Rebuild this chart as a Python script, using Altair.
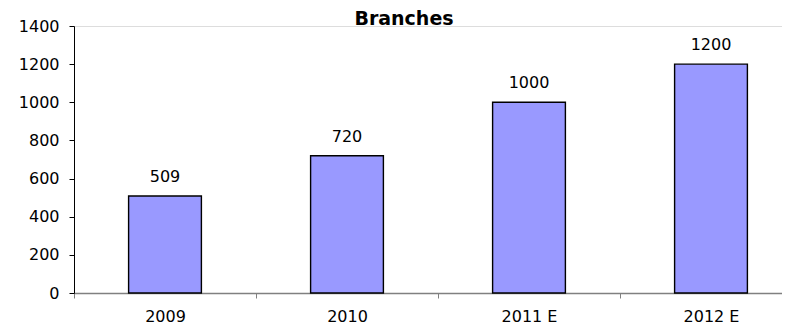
import altair as alt
import pandas as pd

years = ["2009", "2010", "2011 E", "2012 E"]
branches = [509, 720, 1000, 1200]
y_ticks = [0, 200, 400, 600, 800, 1000, 1200, 1400]

df = pd.DataFrame({"year": years, "branches": branches})

FONT = "DejaVu Sans"

x = alt.X(
    "year:N",
    sort=years,
    title=None,
    scale=alt.Scale(range=[0, 728], paddingInner=0, paddingOuter=0),
    axis=alt.Axis(
        labelAngle=0,
        labelFont=FONT,
        labelFontSize=16,
        labelColor="black",
        labelBaseline="alphabetic",
        labelPadding=23,
        domainColor="#808080",
        domainWidth=1.5,
        tickColor="#808080",
        tickSize=5,
        tickBand="extent",
        grid=False,
    ),
)
y = alt.Y(
    "branches:Q",
    title=None,
    scale=alt.Scale(domain=[0, 1400], nice=False),
    axis=alt.Axis(
        values=y_ticks,
        format="d",
        labelFont=FONT,
        labelFontSize=16,
        labelColor="black",
        labelPadding=10,
        domainColor="black",
        tickColor="black",
        tickSize=5,
        grid=False,
    ),
)

bars = alt.Chart(df).mark_bar(
    width=alt.RelativeBandSize(0.4), color="#9999FF", stroke="black", strokeWidth=1.4
).encode(x=x, y=y)

labels = alt.Chart(df).mark_text(
    font=FONT, fontSize=16, color="black", baseline="alphabetic", dy=-14
).encode(x=x, y=y, text="branches:Q")

chart = (
    alt.layer(bars, labels)
    .properties(
        width=708,
        height=267,
        autosize=alt.AutoSizeParams(type="none"),
        padding={"left": 66, "top": 18, "right": 0, "bottom": 33},
        title=alt.TitleParams(
            "Branches",
            font=FONT,
            fontSize=19,
            fontWeight="bold",
            color="black",
            anchor="middle",
            offset=1,
            dx=-24,
            dy=12,
        ),
    )
    .configure_view(strokeWidth=0)
    .configure(background="white")
)

chart.save("out.html", embed_options={"renderer": "svg", "actions": False})
